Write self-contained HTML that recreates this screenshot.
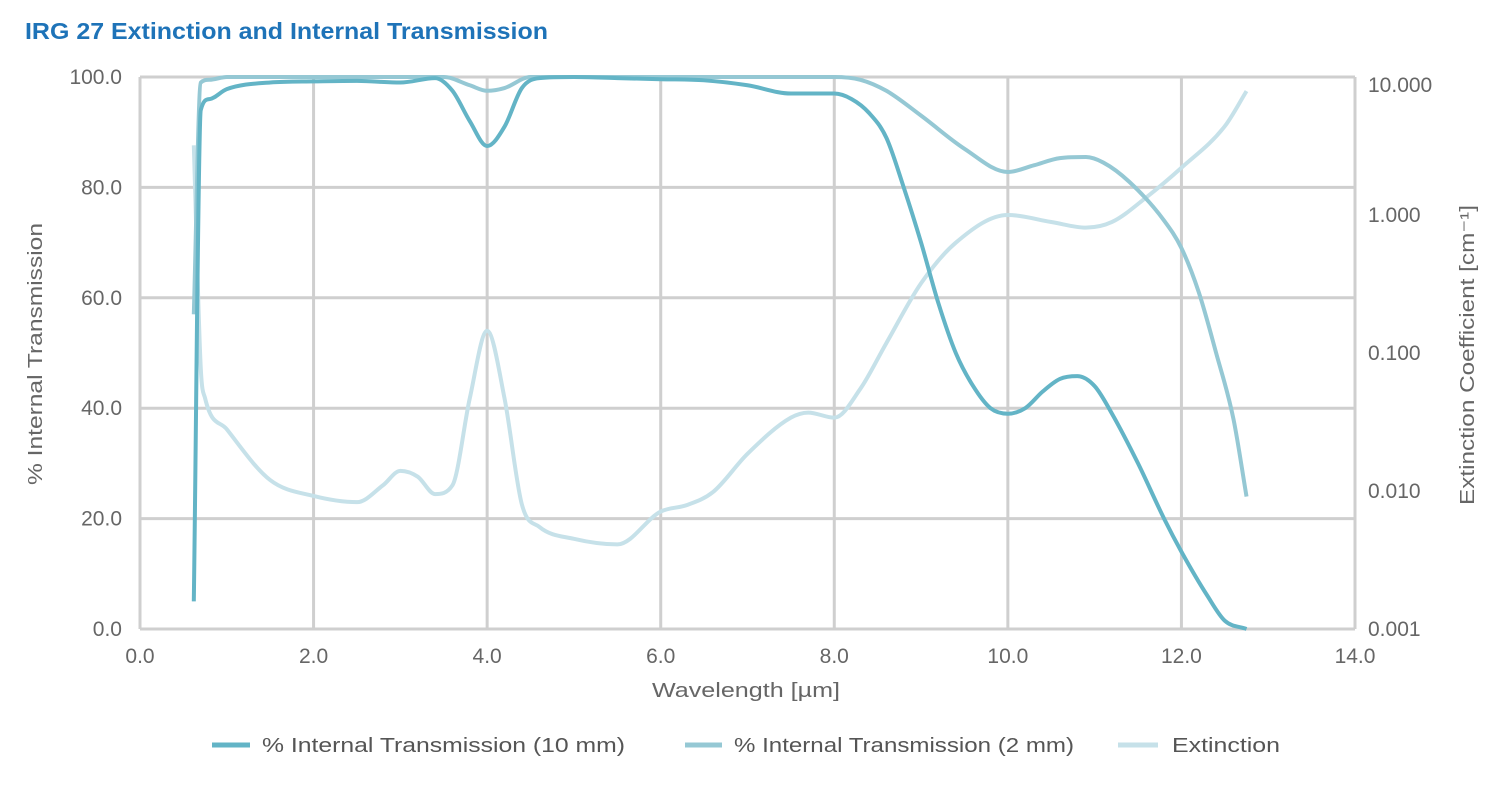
<!DOCTYPE html>
<html><head><meta charset="utf-8"><style>
body{margin:0;background:#fff;font-family:"Liberation Sans","DejaVu Sans",sans-serif;}
svg text{font-family:"Liberation Sans","DejaVu Sans",sans-serif;}
</style></head><body>
<svg id="c" width="1500" height="780" xmlns="http://www.w3.org/2000/svg">
<text x="25" y="39" font-size="23" font-weight="bold" fill="#1e73b8" textLength="523" lengthAdjust="spacingAndGlyphs">IRG 27 Extinction and Internal Transmission</text>
<g id="grid"></g>
<g id="series"></g>
<g id="axes"></g>
<text x="652" y="697" font-size="20" fill="#666" textLength="188" lengthAdjust="spacingAndGlyphs">Wavelength [µm]</text>
<text transform="translate(42,485) rotate(-90)" font-size="20" fill="#666" textLength="262" lengthAdjust="spacingAndGlyphs">% Internal Transmission</text>
<text transform="translate(1474,505) rotate(-90)" font-size="20" fill="#666" textLength="300" lengthAdjust="spacingAndGlyphs">Extinction Coefficient [cm⁻¹]</text>
<g>
<g><line x1="212" y1="745" x2="250" y2="745" stroke="#63b4c6" stroke-width="5"/><text x="262" y="752" font-size="20" fill="#555" textLength="363" lengthAdjust="spacingAndGlyphs">% Internal Transmission (10 mm)</text></g>
<g><line x1="685" y1="745" x2="722" y2="745" stroke="#95c8d4" stroke-width="5"/><text x="734" y="752" font-size="20" fill="#555" textLength="340" lengthAdjust="spacingAndGlyphs">% Internal Transmission (2 mm)</text></g>
<g><line x1="1118" y1="745" x2="1158" y2="745" stroke="#c6e1e9" stroke-width="5"/><text x="1172" y="752" font-size="20" fill="#555" textLength="108" lengthAdjust="spacingAndGlyphs">Extinction</text></g>
</g>
</svg>
<script>
const xTicks=[0,2,4,6,8,10,12,14];
const yTicks=[0,20,40,60,80,100];
const y2Ticks=[0.001,0.01,0.1,1,10];
const y2Labels=["0.001","0.010","0.100","1.000","10.000"];
const t10W=[0.62,0.7,0.8,1.0,1.5,2.0,2.5,3.0,3.4,3.6,3.8,4.0,4.2,4.4,4.6,5.0,5.5,6.0,6.5,7.0,7.5,7.8,8.0,8.2,8.4,8.6,8.8,9.0,9.2,9.4,9.6,9.8,10.0,10.2,10.4,10.6,10.8,11.0,11.2,11.5,11.8,12.0,12.3,12.5,12.75];
const t10V=[5,94,96,97.8,99,99.2,99.3,99,99.8,97.5,92,87.5,91,98,99.8,100,99.8,99.6,99.4,98.5,97,97,97,96,93.5,89,80,70,59,50,44,40,39,40,43,45.3,45.8,44,39,30,20,14,6,1.5,0];
const t2W=[0.62,0.7,0.8,1.0,3.5,3.8,4.0,4.2,4.5,8.0,8.3,8.6,9.0,9.5,10.0,10.3,10.6,10.9,11.1,11.4,11.8,12.0,12.2,12.4,12.6,12.75];
const t2V=[57,99,99.5,100,100,98.5,97.5,98,100,100,99.5,97.5,93,87,82.8,84,85.3,85.5,84.5,81,74,69,61,50,38,24];
const exW=[0.62,0.7,0.75,1.0,1.5,2.0,2.5,2.8,3.0,3.2,3.4,3.6,3.8,4.0,4.2,4.4,4.6,5.0,5.5,6.0,6.3,6.6,7.0,7.5,7.7,8.0,8.3,8.6,9.0,9.4,10.0,10.5,10.9,11.2,11.6,12.0,12.5,12.75];
const exV=[3.2,0.078,0.047,0.028,0.012,0.0092,0.0083,0.011,0.014,0.0127,0.0095,0.011,0.047,0.145,0.047,0.008,0.0055,0.0045,0.0041,0.0071,0.0079,0.0098,0.0186,0.034,0.037,0.034,0.055,0.118,0.32,0.63,1.0,0.89,0.81,0.89,1.35,2.2,4.4,7.9];
const X0=140,X1=1355,Y0=629,Y1=77;
const sx=v=>X0+(v-0)/(14-0)*(X1-X0);
const sy=v=>Y0-(v-0)/100*(Y0-Y1);
const sy2=v=>Y0-(Math.log10(v)+3)/4*(Y0-Y1);
const NS="http://www.w3.org/2000/svg";
function mk(t,a,p){const e=document.createElementNS(NS,t);for(const k in a)e.setAttribute(k,a[k]);p.appendChild(e);return e;}
const grid=document.getElementById('grid'),axes=document.getElementById('axes'),ser=document.getElementById('series');
xTicks.forEach(v=>{const l=mk('line',{x1:sx(v),x2:sx(v),y1:Y1,y2:Y0,stroke:'#cfcfcf','stroke-width':3},grid);


const t=mk('text',{x:sx(v),y:663,'font-size':21,fill:'#666','text-anchor':'middle'},axes);t.textContent=v.toFixed(1);

});
yTicks.forEach(v=>{const l=mk('line',{x1:X0,x2:X1,y1:sy(v),y2:sy(v),stroke:'#cfcfcf','stroke-width':3},grid);


const t=mk('text',{x:122,y:sy(v)+7,'font-size':21,fill:'#666','text-anchor':'end'},axes);t.textContent=v.toFixed(1);

});
y2Ticks.forEach((v,i)=>{let y=sy2(v)+7;if(i==4)y+=8;const t=mk('text',{x:1368,y:y,'font-size':21,fill:'#666'},axes);t.textContent=y2Labels[i];

});
function path(pts){const n=pts.length;const d=[],m=new Array(n);
for(let i=0;i<n-1;i++)d.push((pts[i+1][1]-pts[i][1])/(pts[i+1][0]-pts[i][0]));
m[0]=d[0];m[n-1]=d[n-2];
for(let i=1;i<n-1;i++){m[i]=(d[i-1]*d[i]<=0)?0:(d[i-1]+d[i])/2;}
for(let i=0;i<n-1;i++){if(d[i]==0){m[i]=0;m[i+1]=0;continue;}const a=m[i]/d[i],b=m[i+1]/d[i],s=a*a+b*b;if(s>9){const t=3/Math.sqrt(s);m[i]=t*a*d[i];m[i+1]=t*b*d[i];}}
let s='M'+pts[0][0]+','+pts[0][1];
for(let i=0;i<n-1;i++){const h=(pts[i+1][0]-pts[i][0])/3;
s+=' C'+(pts[i][0]+h)+','+(pts[i][1]+m[i]*h)+' '+(pts[i+1][0]-h)+','+(pts[i+1][1]-m[i+1]*h)+' '+pts[i+1][0]+','+pts[i+1][1];}
return s;}
const e=mk('path',{d:path(exW.map((w,i)=>[sx(w),sy2(exV[i])])),fill:'none',stroke:'#c6e1e9','stroke-width':4,'stroke-linejoin':'round'},ser);


const b=mk('path',{d:path(t2W.map((w,i)=>[sx(w),sy(t2V[i])])),fill:'none',stroke:'#95c8d4','stroke-width':4,'stroke-linejoin':'round'},ser);


const a=mk('path',{d:path(t10W.map((w,i)=>[sx(w),sy(t10V[i])])),fill:'none',stroke:'#63b4c6','stroke-width':4,'stroke-linejoin':'round'},ser);


</script>
</body></html>
